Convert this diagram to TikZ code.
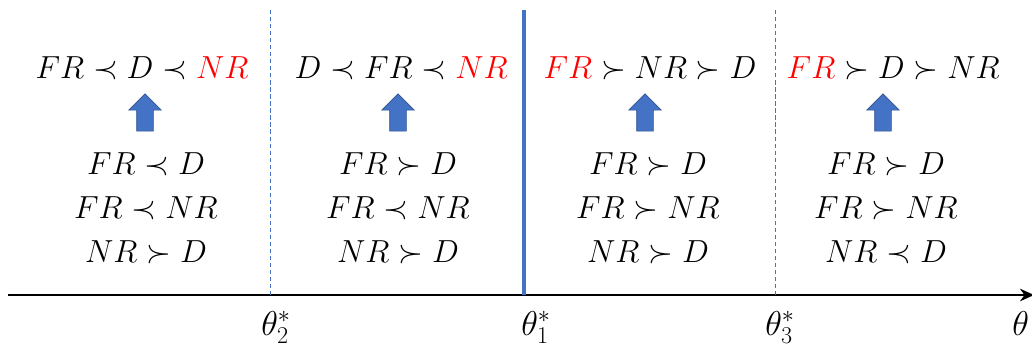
\RequirePackage{fix-cm}
\documentclass[tikz,border=0pt]{standalone}
\usetikzlibrary{positioning, arrows.meta, shapes.arrows}

\definecolor{bandblue}{HTML}{4472C4}
\definecolor{bandedge}{HTML}{2F528F}

\begin{document}
\begin{tikzpicture}[
  order/.style={font=\fontsize{22.7}{27}\selectfont, inner sep=0pt},
  cond/.style={font=\fontsize{22.7}{31.3}\selectfont, align=center, inner sep=0pt},
  uparrow/.style={single arrow, shape border rotate=90, draw=bandedge, fill=bandblue,
    minimum height=0.93cm, inner sep=0.2cm, single arrow head extend=0.2cm},
  split/.style={draw=bandblue, dash pattern=on 3pt off 2pt, line width=0.6pt},
  mainsplit/.style={draw=bandblue, line width=2.5pt},
  axis/.style={-{Stealth[length=10pt, width=9pt]}, line width=0.8pt},
  thlabel/.style={font=\fontsize{24.5}{28}\selectfont, inner sep=0pt, anchor=base}
]
\useasboundingbox (0,0) rectangle (25.8,8.675);

% --- theta axis ---
\coordinate (ax0) at (0.2,1.3);
\coordinate (ax1) at (25.85,1.3);
\draw[axis] (ax0) -- (ax1);

% --- thresholds ---
\coordinate (t2top) at (6.75,8.425);
\coordinate (t2bot) at (6.75,1.3);
\coordinate (t1top) at (13.1,8.425);
\coordinate (t1bot) at (13.1,1.3);
\coordinate (t3top) at (19.375,8.425);
\coordinate (t3bot) at (19.375,1.3);
\draw[split] (t2top) -- (t2bot);
\draw[mainsplit] (t1top) -- (t1bot);
\draw[split] (t3top) -- (t3bot);

\node[thlabel] (th2) at (6.9,0.3) {$\theta_2^*$};
\node[thlabel] (th1) at (13.4,0.3) {$\theta_1^*$};
\node[thlabel] (th3) at (19.5,0.3) {$\theta_3^*$};
\node[thlabel] (th) at (25.52,0.3) {$\theta$};

% --- resulting orders (top row) ---
\node[order] (ord1) at (3.55,6.975) {$FR \prec D \prec \textcolor{red}{NR}$};
\node[order] (ord2) at (10.03,6.975) {$D \prec FR \prec \textcolor{red}{NR}$};
\node[order] (ord3) at (16.25,6.975) {$\textcolor{red}{FR} \succ NR \succ D$};
\node[order] (ord4) at (22.33,6.975) {$\textcolor{red}{FR} \succ D \succ NR$};

% --- arrows from pairwise conditions up to the orders ---
\node[uparrow] (up1) at (3.625,5.76) {};
\node[uparrow] (up2) at (9.95,5.76) {};
\node[uparrow] (up3) at (16.125,5.76) {};
\node[uparrow] (up4) at (22.075,5.76) {};

% --- pairwise conditions in each band ---
\node[cond] (cond1) at (3.65,3.475) {$FR \prec D$\\$FR \prec NR$\\$NR \succ D$};
\node[cond] (cond2) at (9.95,3.475) {$FR \succ D$\\$FR \prec NR$\\$NR \succ D$};
\node[cond] (cond3) at (16.2,3.475) {$FR \succ D$\\$FR \succ NR$\\$NR \succ D$};
\node[cond] (cond4) at (22.15,3.475) {$FR \succ D$\\$FR \succ NR$\\$NR \prec D$};

\end{tikzpicture}
\end{document}
